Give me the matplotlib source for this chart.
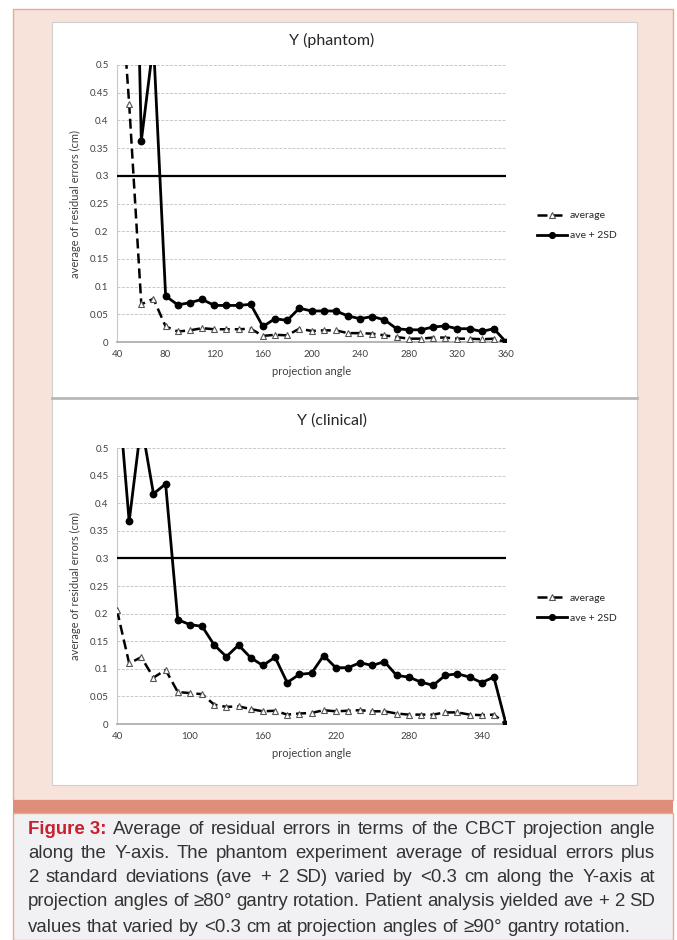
import matplotlib
matplotlib.use('Agg')
import matplotlib.pyplot as plt
from matplotlib.patches import Rectangle
from matplotlib.lines import Line2D

# angulos de projecao (graus)
angulos = [40, 50, 60, 70, 80, 90, 100, 110, 120, 130, 140, 150, 160, 170, 180, 190, 200,
           210, 220, 230, 240, 250, 260, 270, 280, 290, 300, 310, 320, 330, 340, 350, 360]

# Y (phantom)
fantoma_media = [0.74, 0.43, 0.068, 0.078, 0.028, 0.019, 0.021, 0.025, 0.023, 0.023, 0.023,
                 0.024, 0.011, 0.013, 0.012, 0.024, 0.020, 0.021, 0.021, 0.016, 0.016, 0.015,
                 0.012, 0.009, 0.006, 0.006, 0.008, 0.008, 0.006, 0.006, 0.005, 0.006, 0.0]
fantoma_2sd = [1.6, 1.34, 0.363, 0.54, 0.083, 0.067, 0.071, 0.077, 0.066, 0.066, 0.066,
               0.068, 0.028, 0.042, 0.039, 0.061, 0.056, 0.056, 0.056, 0.047, 0.042, 0.046,
               0.040, 0.024, 0.022, 0.022, 0.027, 0.029, 0.024, 0.024, 0.019, 0.024, 0.0]

# Y (clinical)
clinico_media = [0.206, 0.11, 0.121, 0.084, 0.098, 0.058, 0.056, 0.054, 0.035, 0.031, 0.032,
                 0.027, 0.023, 0.024, 0.017, 0.019, 0.020, 0.025, 0.023, 0.024, 0.025, 0.023,
                 0.023, 0.019, 0.017, 0.017, 0.017, 0.021, 0.021, 0.017, 0.016, 0.017, 0.0]
clinico_2sd = [0.63, 0.367, 0.545, 0.417, 0.435, 0.189, 0.180, 0.177, 0.143, 0.122, 0.143,
               0.120, 0.106, 0.121, 0.075, 0.090, 0.092, 0.124, 0.102, 0.102, 0.111, 0.106,
               0.113, 0.088, 0.085, 0.076, 0.070, 0.088, 0.091, 0.085, 0.075, 0.085, 0.0]

limite = 0.3
yticks = [0, 0.05, 0.1, 0.15, 0.2, 0.25, 0.3, 0.35, 0.4, 0.45, 0.5]
xticks_fantoma = [40, 80, 120, 160, 200, 240, 280, 320, 360]
xticks_clinico = [40, 100, 160, 220, 280, 340]

legenda = ['average', 'ave + 2SD']

linhas_legenda = [
    ['Figure 3:', 'Average', 'of', 'residual', 'errors', 'in', 'terms', 'of', 'the', 'CBCT',
     'projection', 'angle'],
    'along the Y-axis. The phantom experiment average of residual errors plus'.split(),
    '2 standard deviations (ave + 2 SD) varied by <0.3 cm along the Y-axis at'.split(),
    'projection angles of \u226580\u00b0 gantry rotation. Patient analysis yielded ave + 2 SD'.split(),
    'values that varied by <0.3 cm at projection angles of \u226590\u00b0 gantry rotation.'.split(),
]

W, H = 677, 940
fig = plt.figure(figsize=(W / 100, H / 100), dpi=100)
fig.patch.set_facecolor('white')

FONTE = 'Lato'
CINZA = '#404040'


def caixa(x0, y0, x1, y1, cor, borda=None, lw=0.8):
    # retangulo em pixels (y de cima para baixo)
    r = Rectangle((x0 / W, 1 - y1 / H), (x1 - x0) / W, (y1 - y0) / H,
                  transform=fig.transFigure, facecolor=cor,
                  edgecolor=borda if borda else 'none', lw=lw, zorder=-5)
    fig.patches.append(r)


# fundos
caixa(13, 9, 673, 800, '#f7e3d9', '#eaa796', 1.0)
caixa(13, 800, 673, 813, '#de8e79')
caixa(13, 813, 673, 940, '#f1f1f3', '#eaa796', 1.0)
caixa(52, 22, 637, 398, 'white', '#d0d0d0', 0.8)
caixa(52, 398, 637, 785, 'white', '#d0d0d0', 0.8)
fig.add_artist(Line2D([52 / W, 637 / W], [1 - 398 / H, 1 - 398 / H],
                      transform=fig.transFigure, color='#b8b8b8', lw=2, zorder=-4))


def grafico(pos, media, sd2, xticks, titulo, ytit):
    ax = fig.add_axes(pos)
    ax.set_facecolor('white')
    ax.plot(angulos, media, ls=(0, (4, 2)), color='black', lw=1.8, marker='^',
            markersize=5, markerfacecolor='white', markeredgecolor='#555555',
            markeredgewidth=0.8, label=legenda[0], zorder=4)
    ax.plot(angulos, sd2, ls='-', color='black', lw=2, marker='o', markersize=4.6,
            label=legenda[1], zorder=5)
    ax.plot([40, 360], [limite, limite], color='black', lw=1.6, zorder=3)

    ax.set_xlim(40, 360)
    ax.set_ylim(0, 0.5)
    ax.set_xticks(xticks)
    ax.set_xticklabels([str(t) for t in xticks])
    ax.set_yticks(yticks)
    ax.set_yticklabels(['0' if t == 0 else str(t) for t in yticks])
    ax.tick_params(length=0, labelsize=7, colors=CINZA, pad=6)
    for lb in ax.get_xticklabels() + ax.get_yticklabels():
        lb.set_fontfamily(FONTE)
    ax.grid(axis='y', color='#c8c8c8', ls=(0, (3, 1.5)), lw=0.7)
    ax.set_axisbelow(True)
    for s in ['top', 'right']:
        ax.spines[s].set_visible(False)
    ax.spines['left'].set_color('#c8c8c8')
    ax.spines['bottom'].set_color('#a8a8a8')
    ax.spines['bottom'].set_linewidth(1.2)

    ax.set_xlabel('projection angle', fontsize=8, family=FONTE, color=CINZA, labelpad=5)
    ax.set_ylabel('average of residual errors (cm)', fontsize=8, family=FONTE,
                  color=CINZA, labelpad=6)
    fig.text(332 / W, 1 - ytit / H, titulo, ha='center', va='center', fontsize=11.5,
             family=FONTE, color='#262626')

    leg = ax.legend(loc='center left', bbox_to_anchor=(1.07, 0.42), frameon=False,
                    fontsize=7.5, handlelength=2.8, handletextpad=0.3, labelspacing=1.0,
                    borderaxespad=0, markerscale=0.9)
    for t in leg.get_texts():
        t.set_fontfamily(FONTE)
        t.set_color('#262626')
    return ax


grafico([117 / W, 1 - 342 / H, 389 / W, 277 / H], fantoma_media, fantoma_2sd,
        xticks_fantoma, 'Y (phantom)', 40)
grafico([117 / W, 1 - 724 / H, 389 / W, 276 / H], clinico_media, clinico_2sd,
        xticks_clinico, 'Y (clinical)', 421)

# legenda da figura, justificada
renderer = fig.canvas.get_renderer()
x_esq, x_dir = 28, 655
ys = [829, 853, 878, 902, 927]
FS = 13.4
for i, palavras in enumerate(linhas_legenda):
    textos = []
    for j, p in enumerate(palavras):
        if i == 0 and j == 0:
            t = fig.text(0, 0, p, fontsize=FS, family='Liberation Sans', weight='bold',
                         color='#c8202f', va='center')
        else:
            t = fig.text(0, 0, p, fontsize=FS, family='Liberation Sans', color='#333333',
                         va='center')
        textos.append(t)
    larg = [t.get_window_extent(renderer).width for t in textos]
    if i < len(linhas_legenda) - 1:
        gap = (x_dir - x_esq - sum(larg)) / (len(textos) - 1)
    else:
        gap = renderer.points_to_pixels(FS) * 0.278
    x = x_esq
    for t, w in zip(textos, larg):
        t.set_position((x / W, 1 - ys[i] / H))
        x += w + gap

fig.savefig('out.png', dpi=100, facecolor=fig.get_facecolor())
